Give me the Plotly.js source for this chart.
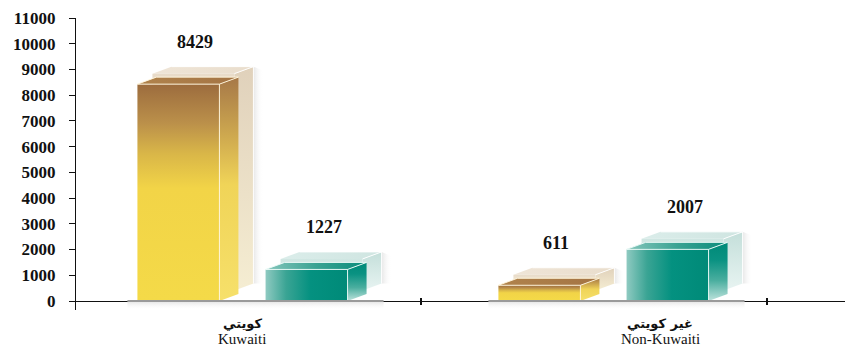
<!DOCTYPE html>
<html><head><meta charset="utf-8">
<script src="https://cdn.plot.ly/plotly-3.0.1.min.js"></script>
<style>html,body{margin:0;padding:0;background:#fff}#chart{width:845px;height:346px}</style>
</head><body><div id="chart"></div>
<script>
// ---- data ----
const categories = ['Kuwaiti', 'Non-Kuwaiti'];
const categoriesAr = ['كويتي', 'غير كويتي'];
const valuesGold = [8429, 611];
const valuesTeal = [1227, 2007];
const yTickValues = [0, 1000, 2000, 3000, 4000, 5000, 6000, 7000, 8000, 9000, 10000, 11000];

// ---- geometry helpers (pixel sizes converted through axis ranges) ----
const W = 845, H = 346, M = {l: 76, r: 0, t: 18, b: 36};
const xRange = [-0.4612, 1.669], yRange = [-350, 11000];
const ux = (xRange[1] - xRange[0]) / (W - M.l - M.r);
const uy = (yRange[1] - yRange[0]) / (H - M.t - M.b);
const halfW = 41 * ux, groupOff = 0.1775;
const dX = 19 * ux, dY = 7 * uy, pX = 15 * ux, pY = 10.5 * uy;

const GOLD = {
  front: [[0,'#f4da48'],[0.52,'#f2d447'],[0.68,'#d9b648'],[0.82,'#bb904a'],[1,'#9c6c3e']],
  side:  [[0,'#f6e06a'],[0.52,'#f0d458'],[0.7,'#d4b050'],[1,'#a67848']],
  top:   [[0,'#b0834c'],[1,'#a47444']],
  pFront:[[0,'#fbf5dc'],[0.6,'#f2e9d4'],[1,'#e8dbc9']],
  pSide: [[0,'#f5edd2'],[1,'#e0d1bb']],
  pTop:  [[0,'#efe5d7'],[1,'#e9ddcc']],
  frontType: 'vertical',
  edge: 'rgba(255,246,220,0.95)'
};
const TEAL = {
  front: [[0,'#8fcac1'],[0.25,'#3aa494'],[0.55,'#049180'],[1,'#008a78']],
  side:  [[0,'#bfe3dd'],[0.35,'#4aae9f'],[0.7,'#0a9282'],[1,'#008a78']],
  top:   [[0,'#86c6bc'],[0.5,'#3aa393'],[1,'#0a8c7b']],
  pFront:[[0,'#eef7f5'],[1,'#cfe6e2']],
  pSide: [[0,'#e8f4f2'],[1,'#c4dfda']],
  pTop:  [[0,'#dbedea'],[1,'#cfe5e1']],
  frontType: 'horizontal',
  edge: 'rgba(235,250,247,0.95)'
};

function poly(xs, ys, type, scale) {
  return {type: 'scatter', mode: 'lines', x: xs.concat([xs[0]]), y: ys.concat([ys[0]]),
    fill: 'toself', fillgradient: {type: type, colorscale: scale},
    line: {width: 0, color: 'rgba(0,0,0,0)'}, hoverinfo: 'skip', showlegend: false};
}
function lines(xs, ys, color, w) {
  return {type: 'scatter', mode: 'lines', x: xs, y: ys, line: {color: color, width: w || 1},
    hoverinfo: 'skip', showlegend: false};
}

const traces = [];
const annotations = [];
const serif = 'Liberation Serif, Times New Roman, serif';

function addBar(cx, v, C) {
  const L = cx - halfW, R = cx + halfW;
  // soft shadow right of the back panel
  const sR = R + pX + dX;
  traces.push(poly([sR, sR + 10 * ux, sR + 10 * ux, sR], [pY + dY, pY + dY, v + pY + dY - 4 * uy, v + pY + dY],
    'horizontal', [[0,'rgba(120,120,120,0.18)'],[1,'rgba(255,255,255,0)']]));
  // translucent back panel
  const bL = L + pX, bR = R + pX;
  traces.push(poly([bR, bR + dX, bR + dX, bR], [pY, pY + dY, v + pY + dY, v + pY], 'vertical', C.pSide));
  traces.push(poly([bL, bR, bR + dX, bL + dX], [v + pY, v + pY, v + pY + dY, v + pY + dY], 'horizontal', C.pTop));
  traces.push(poly([bL, bR, bR, bL], [pY, pY, v + pY, v + pY], 'vertical', C.pFront));
  traces.push(lines([bL + dX, bR + dX, bR + dX, null, bR, bR + dX], [v + pY + dY, v + pY + dY, pY + dY, null, v + pY, v + pY + dY],
    'rgba(255,255,255,0.9)', 1));
  // bar
  traces.push(poly([R, R + dX, R + dX, R], [0, dY, v + dY, v], 'vertical', C.side));
  traces.push(poly([L, R, R + dX, L + dX], [v, v, v + dY, v + dY], 'horizontal', C.top));
  traces.push(poly([L, R, R, L], [0, 0, v, v], C.frontType, C.front));
  traces.push(lines([L, R, R + dX, null, R, R, null, L, L + dX, R + dX], [v, v, v + dY, null, 0, v, null, v, v + dY, v + dY], C.edge, 1));
  annotations.push({x: cx, y: v, xref: 'x', yref: 'y', text: String(v), showarrow: false,
    xshift: 17, yshift: 42, yanchor: 'middle',
    font: {family: serif, size: 18, color: '#111', weight: 'bold'}});
}

categories.forEach((c, i) => {
  const cG = i - groupOff, cT = i + groupOff;
  // grey base and its shadow
  const baseL = cG - halfW - 10 * ux, baseR = cT + halfW + pX + dX + 2 * ux;
  traces.push(poly([baseL, baseR, baseR, baseL], [0, 0, -9 * uy, -9 * uy], 'vertical',
    [[0,'rgba(255,255,255,0)'],[1,'rgba(120,120,120,0.22)']]));
  addBar(cG, valuesGold[i], GOLD);
  addBar(cT, valuesTeal[i], TEAL);
  traces.push(lines([baseL, baseR], [0, 0], '#9a9a9a', 2.2));
  annotations.push({x: i, y: 0, xref: 'x', yref: 'paper', text: categoriesAr[i], showarrow: false,
    yanchor: 'middle', yshift: -13, xshift: i === 0 ? 0 : 57, borderpad: 0,
    font: {family: 'DejaVu Sans, sans-serif', size: 13, color: '#111', weight: 'bold'}});
  annotations.push({x: i, y: 0, xref: 'x', yref: 'paper', text: categories[i], showarrow: false,
    yanchor: 'middle', yshift: -28.5, xshift: i === 0 ? 0 : 57, borderpad: 0,
    font: {family: serif, size: 15, color: '#111'}});
});
traces.push({type: 'scatter', x: [], y: [], xaxis: 'x2', showlegend: false, hoverinfo: 'skip'});

const axisPos = (0 - yRange[0]) / (yRange[1] - yRange[0]);
const layout = {
  width: W, height: H, margin: M,
  paper_bgcolor: '#ffffff', plot_bgcolor: '#ffffff',
  showlegend: false,
  xaxis: {range: xRange, anchor: 'free', position: axisPos, showline: true, linecolor: '#111', linewidth: 1.2,
    showgrid: false, zeroline: false, ticks: 'outside', ticklen: 3, tickwidth: 1.3, tickcolor: '#111',
    tickvals: [0.4945, 1.453], showticklabels: false, layer: 'below traces', fixedrange: true},
  xaxis2: {range: xRange, overlaying: 'x', anchor: 'free', position: axisPos, showline: false, showgrid: false,
    zeroline: false, ticks: 'inside', ticklen: 3, tickwidth: 1.3, tickcolor: '#111',
    tickvals: [0.4945, 1.453], showticklabels: false, layer: 'below traces'},
  yaxis: {range: yRange, showline: true, linecolor: '#111', linewidth: 1.2, showgrid: false, zeroline: false,
    ticks: 'outside', ticklen: 6, tickwidth: 1, tickcolor: '#111', tickvals: yTickValues,
    ticktext: yTickValues.map(String), ticklabelstandoff: 10, layer: 'below traces',
    tickfont: {family: serif, size: 17, color: '#111', weight: 'bold'}},
  annotations: annotations
};
Plotly.newPlot('chart', traces, layout, {displayModeBar: false, staticPlot: true});
</script>
</body></html>
